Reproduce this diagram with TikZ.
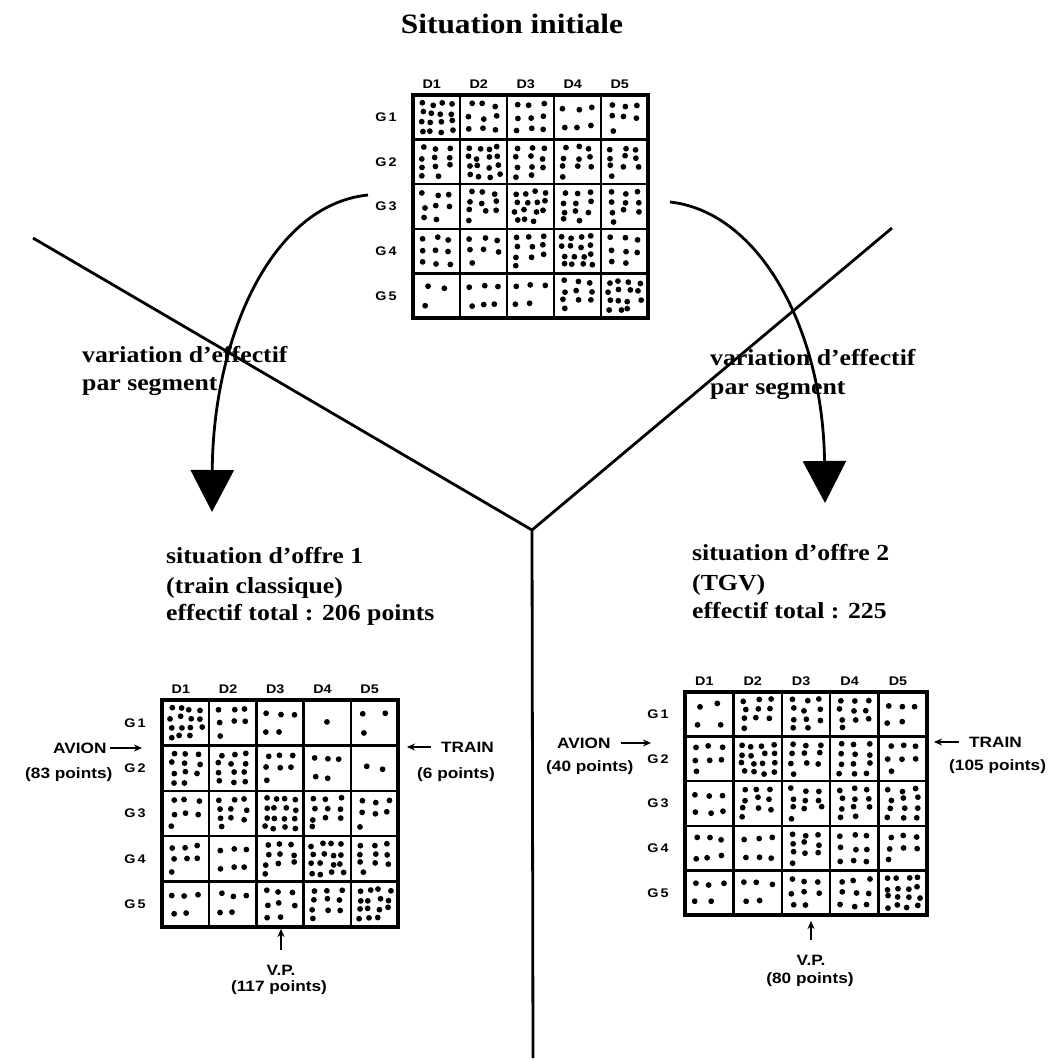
\documentclass[tikz,border=0pt]{standalone}
\usepackage{fontspec}
\setmainfont{Liberation Serif}[FakeStretch=1.12]
\setsansfont{Liberation Sans}[FakeStretch=1.15]
\usetikzlibrary{arrows.meta}

\tikzset{
  titre/.style={font=\bfseries\fontsize{28}{34}\selectfont, anchor=base, inner sep=0pt},
  texte/.style={font=\bfseries\fontsize{23}{28}\selectfont, anchor=base west, inner sep=0pt},
  etiq/.style={font=\sffamily\bfseries\fontsize{12.5}{14}\selectfont, inner sep=0pt},
  mode/.style={font=\sffamily\bfseries\fontsize{15}{17}\selectfont, inner sep=1pt},
  trait/.style={line width=2.8pt},
  fleche/.style={line width=2.8pt, -{Triangle[length=42pt,width=43pt]}},
  petite/.style={line width=1.8pt, -{Stealth[length=8pt,width=7pt]}},
  cadre/.style={draw, line width=3.2pt, inner sep=0pt, outer sep=0pt, anchor=north west},
}

% dots of one cell: x, y, width, height, count
\newcommand\nuage[5]{%
  \pgfmathtruncatemacro\nbc{#5<2 ? 1 : (#5<5 ? 2 : (#5<13 ? 3 : 4))}
  \pgfmathtruncatemacro\nbr{ceil(#5/\nbc)}
  \foreach \k in {1,...,#5} {
    \pgfmathtruncatemacro\ci{mod(\k-1,\nbc)}
    \pgfmathtruncatemacro\ri{int((\k-1)/\nbc)}
    \fill ({#1+4+(\ci+0.5)*(#3-8)/\nbc+2.2*rand}, {#2+4+(\ri+0.5)*(#4-8)/\nbr+1.8*rand}) circle (2.9pt);
  }
}

% 5x5 table: name, x, y, width, height, counts
\newcommand\grille[6]{%
  \node[cadre, minimum width=#4pt, minimum height=#5pt] (#1) at (#2,#3) {};
  \foreach \k in {1,...,4} {
    \draw[line width=2.5pt] ({#2+\k*#4/5},#3) -- ({#2+\k*#4/5},{#3+#5});
    \draw[line width=2.5pt] (#2,{#3+\k*#5/5}) -- ({#2+#4},{#3+\k*#5/5});
  }
  \foreach \j in {1,...,5} {
    \node[etiq] (#1-d\j) at ({#2+(\j-0.6)*#4/5},{#3-11}) {D\j};
    \node[etiq] (#1-g\j) at ({#2-27},{#3+(\j-0.5)*#5/5}) {G\,\j};
  }
  \foreach \n [count=\i from 0] in {#6} {
    \pgfmathtruncatemacro\lig{int(\i/5)}
    \pgfmathtruncatemacro\col{mod(\i,5)}
    \nuage{#2+\col*#4/5}{#3+\lig*#5/5}{#4/5}{#5/5}{\n}
  }
}

\begin{document}
\begin{tikzpicture}[x=1pt,y=-1pt]
  \pgfmathsetseed{7}
  \fill[white] (0,0) rectangle (1061,1061);
  \useasboundingbox (0,0) rectangle (1061,1061);

  \node[titre] (titre) at (512,33) {Situation initiale};

  % the three tables
  \grille{init}{413}{95}{235}{223}{16,9,9,6,7, 11,16,11,10,10, 8,10,15,11,10, 9,7,10,16,8, 3,6,5,10,15}
  \grille{offreA}{162}{700}{236}{227}{15,7,5,1,3, 11,12,7,5,2, 7,10,16,10,7, 7,6,10,16,10, 5,5,8,10,15}
  \grille{offreB}{685}{692}{242}{223}{4,10,11,10,5, 7,16,10,12,7, 6,10,10,11,12, 6,6,10,9,7, 5,5,8,9,16}

  % the Y
  \coordinate (jonction) at (532,530);
  \coordinate (gauche) at (33,238);
  \coordinate (droite) at (892,228);
  \coordinate (bas) at (533,1058);
  \draw[trait] (gauche) -- (jonction);
  \draw[trait] (droite) -- (jonction);
  \draw[trait] (jonction) -- (bas);

  % variation arrows
  \coordinate (depA) at (368,195);
  \coordinate (finA) at (212,512);
  \coordinate (depB) at (670,202);
  \coordinate (finB) at (825,503);
  \draw[fleche] (depA) .. controls (270,205) and (213,340) .. (finA);
  \draw[fleche] (depB) .. controls (760,212) and (823,330) .. (finB);

  \node[texte] (varA1) at (82,362) {variation d'effectif};
  \node[texte] (varA2) at (82,390) {par segment};
  \node[texte] (varB1) at (710,365) {variation d'effectif};
  \node[texte] (varB2) at (710,394) {par segment};

  \node[texte] (offA1) at (166,563) {situation d'offre 1};
  \node[texte] (offA2) at (166,593) {(train classique)};
  \node[texte] (offA3) at (166,620) {effectif total : 206 points};
  \node[texte] (offB1) at (692,560) {situation d'offre 2};
  \node[texte] (offB2) at (692,590) {(TGV)};
  \node[texte] (offB3) at (692,618) {effectif total : 225};

  % modes, first offer
  \node[mode, anchor=west] (avionA) at (52,748) {AVION};
  \node[mode, anchor=west] (avionAp) at (24,775) {(83 points)};
  \coordinate (avionAe) at (142,748);
  \draw[petite, shorten <=2pt] (avionA) -- (avionAe);
  \node[mode, anchor=west] (trainA) at (440,747) {TRAIN};
  \node[mode, anchor=west] (trainAp) at (416,775) {(6 points)};
  \coordinate (trainAe) at (407,747);
  \draw[petite, shorten <=9pt] (trainA) -- (trainAe);
  \node[mode] (vpA) at (281,970) {V.P.};
  \node[mode] (vpAp) at (279,988) {(117 points)};
  \coordinate (vpAe) at (281,929);
  \draw[petite, shorten <=14pt] (vpA) -- (vpAe);

  % modes, second offer
  \node[mode, anchor=west] (avionB) at (556,743) {AVION};
  \node[mode, anchor=west] (avionBp) at (545,768) {(40 points)};
  \coordinate (avionBe) at (651,743);
  \draw[petite, shorten <=9pt] (avionB) -- (avionBe);
  \node[mode, anchor=west] (trainB) at (968,742) {TRAIN};
  \node[mode, anchor=west] (trainBp) at (948,767) {(105 points)};
  \coordinate (trainBe) at (934,742);
  \draw[petite, shorten <=9pt] (trainB) -- (trainBe);
  \node[mode] (vpB) at (811,960) {V.P.};
  \node[mode] (vpBp) at (810,980) {(80 points)};
  \coordinate (vpBe) at (811,921);
  \draw[petite, shorten <=14pt] (vpB) -- (vpBe);
\end{tikzpicture}
\end{document}
